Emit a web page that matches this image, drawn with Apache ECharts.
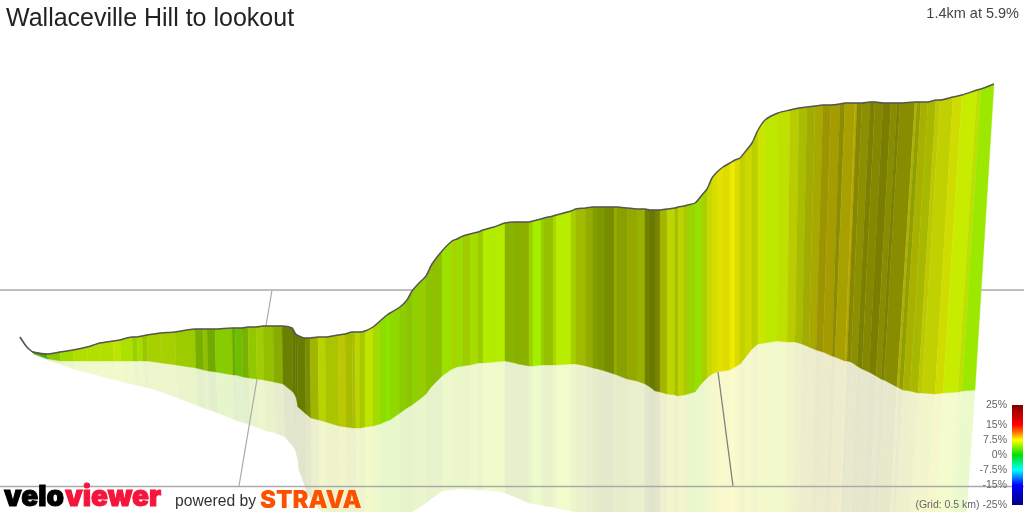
<!DOCTYPE html>
<html>
<head>
<meta charset="utf-8">
<style>
  html, body { margin: 0; padding: 0; background: #fff; }
  #chart { width: 1024px; height: 512px; }
</style>
<script src="https://cdn.jsdelivr.net/npm/echarts@6/dist/echarts.min.js"></script>
</head>
<body>
<div id="chart"></div>
<script>
const titleText = "Wallaceville Hill to lookout";
const summaryText = "1.4km at 5.9%";
const gradientLabels = ["25%", "15%", "7.5%", "0%", "-7.5%", "-15%", "(Grid: 0.5 km) -25%"];

// the 3d wall: one value per stripe edge
const stripeX = [
  20,26,30,33,47,60,73,87,100,113,
  120,132,137,142,147,161,175,195,203,207,
  215,232,235,242,248,256,263,273,282,292,
  295,297,305,310,318,325,338,345,352,355,
  360,365,373,380,387,390,400,407,412,420,
  426,432,442,452,457,463,470,478,483,494,
  505,515,518,529,533,541,544,553,556,571,
  576,586,593,598,605,614,617,627,637,645,
  650,655,660,667,675,678,684,688,695,702,
  707,712,717,723,730,735,740,745,752,758,
  765,778,790,799,807,815,823,831,840,845,
  855,857,862,870,875,883,891,897,900,915,
  917,921,928,936,940,953,962,977,981,994
];
const stripeTop = [
  337,346,350,352,354,352,350,347,343,341,
  340,337,337,336,335,333,332,329,329,329,
  329,328,328,328,327,327,326,326,326,328,
  333,335,338,338,337,337,335,334,332,332,
  332,331,327,321,315,313,307,300,291,282,
  276,264,251,241,239,236,234,232,230,227,
  223,222,222,222,221,219,218,216,215,211,
  209,208,207,207,207,207,207,208,209,209,
  210,210,210,209,208,207,206,205,203,195,
  189,178,172,167,163,160,158,152,143,130,
  120,113,110,108,107,106,105,105,104,103,
  103,103,103,102,102,103,103,103,103,102,
  102,102,102,100,100,97,95,90,89,84
];
const wallX = [
  20,27,31,34,48,61,74,88,101,114,
  121,133,138,143,148,162,176,196,204,208,
  216,233,236,243,249,257,264,274,283,293,
  296,298,306,311,319,326,339,346,353,356,
  360,365,373,380,387,390,400,407,412,420,
  426,432,442,452,457,463,470,478,483,494,
  505,515,518,529,533,541,544,553,556,571,
  576,586,593,598,605,614,617,627,637,645,
  650,655,660,667,675,678,684,688,695,702,
  707,712,717,723,730,735,740,745,752,758,
  765,777,787,795,802,809,816,823,832,835,
  845,847,851,857,862,869,876,881,884,897,
  899,903,910,918,922,935,943,958,962,975
];
const wallBase = [
  338,347,351,354,359,361,361,361,361,361,
  361,361,361,361,361,363,365,368,370,371,
  372,375,375,377,378,379,380,382,384,392,
  397,407,414,418,420,422,426,427,428,428,
  428,427,426,424,421,420,413,408,405,399,
  394,386,376,369,367,366,365,363,363,362,
  361,363,364,366,366,365,365,365,365,364,
  364,366,368,369,371,374,375,379,381,384,
  387,391,392,394,395,396,395,394,392,383,
  378,374,372,371,370,367,364,358,349,344,
  343,341,342,342,344,347,350,352,356,357,
  361,361,362,366,369,372,376,379,380,387,
  388,390,391,393,393,394,393,392,391,390
];
const shadowX = [
  20,28,32,35,50,63,76,90,103,116,
  123,135,140,145,150,164,178,198,206,210,
  218,235,238,245,251,259,266,276,285,295,
  298,299,307,312,320,327,340,347,354,357,
  360,365,373,380,387,390,400,407,412,420,
  426,432,442,452,457,463,470,478,483,494,
  505,515,518,529,533,541,544,553,556,571,
  576,586,593,598,605,614,617,627,637,645,
  650,655,660,667,675,678,684,688,695,702,
  707,712,717,723,730,735,740,745,752,758,
  765,776,785,792,799,805,811,817,826,829,
  839,841,844,851,855,862,869,874,877,890,
  892,895,902,910,914,927,935,950,954,966
];
const shadowBase = [
  338,348,352,355,361,365,370,373,377,380,
  382,385,386,387,388,393,398,406,409,410,
  413,420,421,423,425,428,431,433,437,449,
  460,470,492,500,510,516,522,522,522,522,
  522,522,522,522,522,522,520,518,512,507,
  503,498,491,490,489,489,489,490,490,491,
  493,497,498,503,504,505,506,507,508,511,
  512,514,516,517,518,520,520,522,522,522,
  522,522,522,522,522,522,522,522,522,522,
  522,522,522,522,522,522,522,522,522,522,
  522,522,522,522,522,522,522,522,522,522,
  522,522,522,522,522,522,522,522,522,522,
  522,522,522,522,522,522,522,522,522,522
];
// gradient colour of each stripe, one less than the edges
const stripeColor = [
  "#2e8f00","#3f9f00","#4bab00","#4bab00","#8cc800","#a0dc00","#b3df00","#b3df00","#b3df00","#bfe400",
  "#aee000","#9ad200","#a8dc00","#98c800","#a6d000","#a6d000","#9ccc00","#78ae00","#90c000","#72aa00",
  "#86cc00","#70a800","#6cc000","#7ab000","#92c800","#a0cc00","#94c000","#88ac00","#6c8000","#607800",
  "#607800","#6a7c00","#7a8c00","#a0b400","#b8d400","#aac400","#bcc800","#a8bc00","#aac000","#bcd400",
  "#a8c800","#bee400","#a4da00","#8fdc00","#88e800","#90d800","#8ccc00","#8cc400","#90d000","#98cc00",
  "#8cc400","#8cc000","#9ce000","#a8d400","#9cdc00","#a0cc00","#a6dc00","#9ccc00","#b4ec00","#b4ec00",
  "#88b400","#88b000","#8cb000","#a0d000","#a4ee00","#98d000","#96c000","#a8d400","#b8ec00","#a8d000",
  "#a0bc00","#94ac00","#809c00","#7c9800","#788c00","#94ac00","#88a000","#94a800","#98b000","#708000",
  "#687800","#788400","#a4b400","#bcd400","#a8bc00","#bcd400","#a8cc00","#9cd400","#98e000","#a8d000",
  "#c8d800","#d4dc00","#e4e000","#e0dc00","#ecec00","#d8dc00","#c4d000","#ccd800","#bcd000","#cce400",
  "#bce800","#c0e000","#b8cc00","#aabc00","#a0ac00","#a8a800","#9c9400","#a49c00","#8c8c00","#a8a000",
  "#b8a800","#888800","#8c9000","#7c8000","#848800","#7a7e00","#888c00","#7a8000","#888c00","#b0b000",
  "#90a000","#a8b000","#a8b800","#bcc800","#c0d000","#d0dc00","#c8ec00","#bce000","#9ce800"
];
// the 0.5 km floor grid
const gridUpper = [[0, 290], [1024, 290]];
const gridLower = [[0, 486.5], [1024, 486.5]];
const gridLeft = [[272, 290], [239, 486]];
const gridRight = [[718, 372], [733, 486]];

const chart = echarts.init(document.getElementById("chart"));

// stripe colour washed out towards white, for the shadow on the floor
const washOut = (hex, amount) => {
  const rgb = [1, 3, 5].map((p) => parseInt(hex.slice(p, p + 2), 16));
  return "rgb(" + rgb.map((v) => Math.round(255 - (255 - v) * amount)).join(",") + ")";
};

// polygons for one stripe, between two of the profile columns
const stripeSeries = (topX, topY, botX, botY, amount, z) => ({
  type: "custom",
  coordinateSystem: "cartesian2d",
  silent: true,
  clip: true,
  z: z,
  data: stripeColor.map((c, i) => [topX[i], topY[i], botX[i], botY[i], topX[i + 1], topY[i + 1], botX[i + 1], botY[i + 1]]),
  renderItem: (params, api) => {
    const color = washOut(stripeColor[params.dataIndex], amount);
    return {
      type: "polygon",
      shape: {
        points: [
          api.coord([api.value(0), api.value(1)]),
          api.coord([api.value(4), api.value(5)]),
          api.coord([api.value(6), api.value(7)]),
          api.coord([api.value(2), api.value(3)]),
        ],
      },
      style: { fill: color, stroke: color, lineWidth: 0.4 },
    };
  },
});

const gridSeries = (data, color, width) => ({
  type: "line",
  data: data,
  symbol: "none",
  silent: true,
  z: 2,
  lineStyle: { color: color, width: width },
});

const labelY = [405, 425, 440, 455, 470, 485, 505];

chart.setOption({
  animation: false,
  title: [
    {
      text: titleText,
      left: 6,
      top: 7,
      padding: 0,
      textStyle: { fontFamily: "Liberation Sans", fontSize: 25, fontWeight: "normal", color: "#222" },
    },
    {
      text: summaryText,
      right: 5,
      top: 6,
      padding: 0,
      textStyle: { fontFamily: "Liberation Sans", fontSize: 14.5, fontWeight: "normal", color: "#444" },
    },
  ],
  grid: { left: 0, right: 0, top: 0, bottom: 0 },
  xAxis: { type: "value", min: 0, max: 1024, show: false },
  yAxis: { type: "value", min: 0, max: 512, inverse: true, show: false },
  series: [
    stripeSeries(wallX, wallBase, shadowX, shadowBase, 0.2, 1),
    gridSeries(gridUpper, "#aaaaaa", 1.5),
    gridSeries(gridLeft, "#aaaaaa", 1.2),
    gridSeries(gridRight, "#808080", 1.3),
    gridSeries(gridLower, "#aaaaaa", 1.5),
    stripeSeries(stripeX, stripeTop, wallX, wallBase, 1, 3),
    {
      type: "line",
      data: stripeX.map((x, i) => [x, stripeTop[i]]),
      symbol: "none",
      smooth: 0.25,
      silent: true,
      z: 4,
      lineStyle: { color: "#555555", width: 1.5 },
    },
  ],
  graphic: [
    {
      type: "rect",
      z: 10,
      shape: { x: 1012, y: 405, width: 11, height: 100 },
      style: {
        fill: new echarts.graphic.LinearGradient(0, 0, 0, 1, [
          { offset: 0, color: "#800000" },
          { offset: 0.2, color: "#ff0000" },
          { offset: 0.28, color: "#ff8000" },
          { offset: 0.35, color: "#ffff00" },
          { offset: 0.5, color: "#00e000" },
          { offset: 0.65, color: "#00ffff" },
          { offset: 0.8, color: "#0000ff" },
          { offset: 1, color: "#000080" },
        ]),
      },
    },
    ...gradientLabels.map((label, i) => ({
      type: "text",
      z: 10,
      x: 1007,
      y: labelY[i],
      style: {
        text: label,
        align: "right",
        verticalAlign: "middle",
        fontFamily: "Liberation Sans",
        fontSize: 10.5,
        fill: "#666",
      },
    })),
    {
      type: "text", z: 10, x: 4, y: 498,
      style: { text: "velo", verticalAlign: "middle", fontFamily: "Inter", fontWeight: 900, fontSize: 28, fill: "#000", stroke: "#000", lineWidth: 1 },
    },
    {
      type: "text", z: 10, x: 65, y: 498,
      style: { text: "viewer", verticalAlign: "middle", fontFamily: "Inter", fontWeight: 900, fontSize: 28, fill: "#f5143c", stroke: "#f5143c", lineWidth: 1 },
    },
    {
      type: "text", z: 10, x: 175, y: 502,
      style: { text: "powered by", verticalAlign: "middle", fontFamily: "Liberation Sans", fontSize: 15.7, fill: "#333" },
    },
    {
      type: "text", z: 10, x: 260, y: 501,
      style: { text: "STRAVA", verticalAlign: "middle", fontFamily: "Inter", fontWeight: 900, fontSize: 24, fill: "#fc5200" },
    },
  ],
});
</script>
</body>
</html>
